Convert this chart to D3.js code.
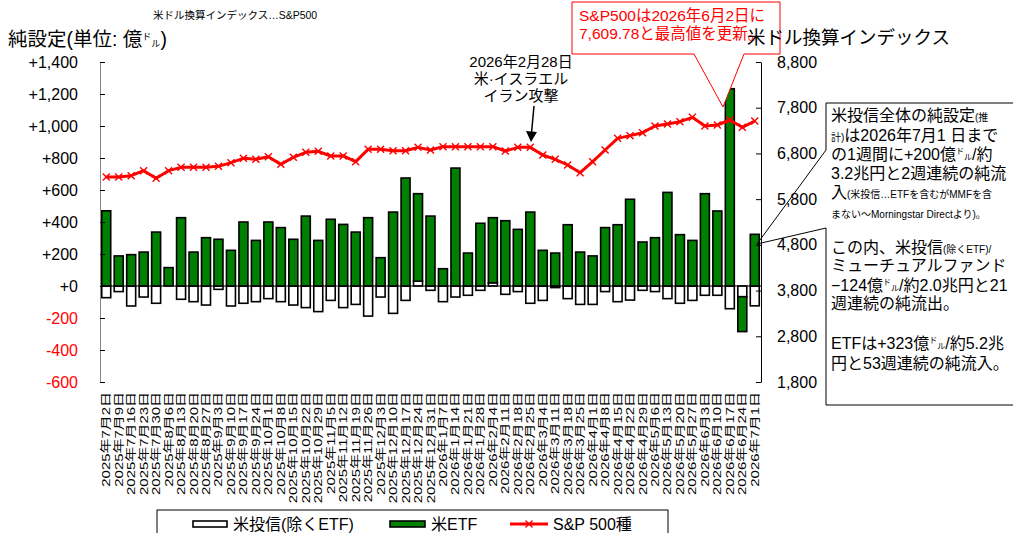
<!DOCTYPE html>
<html>
<head>
<meta charset="utf-8">
<script src="https://cdn.jsdelivr.net/npm/d3@7"></script>
<style>
  body { margin: 0; background: #fff; }
  svg { display: block; font-family: "Liberation Sans", Arial, "Noto Sans CJK JP", sans-serif; }
</style>
</head>
<body>
<svg id="chart" width="1013" height="533"></svg>
<script>
// weekly data (億ドル), S&P500 index
const dates = [
  '2025年7月2日','2025年7月9日','2025年7月16日','2025年7月23日','2025年7月30日',
  '2025年8月6日','2025年8月13日','2025年8月20日','2025年8月27日',
  '2025年9月3日','2025年9月10日','2025年9月17日','2025年9月24日',
  '2025年10月1日','2025年10月8日','2025年10月15日','2025年10月22日','2025年10月29日',
  '2025年11月5日','2025年11月12日','2025年11月19日','2025年11月26日',
  '2025年12月3日','2025年12月10日','2025年12月17日','2025年12月24日','2025年12月31日',
  '2026年1月7日','2026年1月14日','2026年1月21日','2026年1月28日',
  '2026年2月4日','2026年2月11日','2026年2月18日','2026年2月25日',
  '2026年3月4日','2026年3月11日','2026年3月18日','2026年3月25日',
  '2026年4月1日','2026年4月8日','2026年4月15日','2026年4月22日','2026年4月29日',
  '2026年5月6日','2026年5月13日','2026年5月20日','2026年5月27日',
  '2026年6月3日','2026年6月10日','2026年6月17日','2026年6月24日','2026年7月1日'
]
const mutualFunds = [
  -73, -35, -125, -69, -108, 0, -83, -98, -119, -21, -125, -108, -98,
  -79, -98, -119, -135, -160, -90, -135, -115, -188, -69, -171, -90, 30, -27,
  -98, -69, -58, -27, 20, -52, -35, -108, -90, -10, -79, -115,
  -115, -35, -98, -88, -27, -35, -79, -108, -90, -58, -58, -142, -67, -124
]
const etfs = [
  470, 188, 196, 212, 337, 115, 427, 212, 302, 292, 223, 400, 285,
  400, 365, 292, 437, 285, 417, 385, 337, 427, 177, 462, 675, 547, 437,
  108, 737, 206, 392, 407, 408, 354, 462, 223, 206, 383, 212,
  188, 365, 383, 542, 275, 302, 585, 321, 285, 577, 469, 1233, -218, 323
]
const sp500 = [
  6284, 6284, 6314, 6423, 6255, 6423, 6496, 6496, 6496, 6518,
  6598, 6693, 6671, 6729, 6561, 6715, 6824, 6846, 6744, 6744,
  6620, 6890, 6890, 6860, 6860, 6933, 6875,
  6948, 6948, 6948, 6948, 6948, 6853, 6933, 6933,
  6766, 6671, 6547, 6379, 6620, 6875, 7130, 7189, 7254,
  7400, 7444, 7495, 7590, 7400, 7422, 7531, 7371, 7509
]
const leftTicks = [1400, 1200, 1000, 800, 600, 400, 200, 0, -200, -400, -600]
const rightTicks = [8800, 7800, 6800, 5800, 4800, 3800, 2800, 1800]
const seriesNames = ['米投信(除くETF)', '米ETF', 'S&P 500種']

const svg = d3.select('#chart')
const plotLeft = 100, plotRight = 761, plotTop = 62, plotBottom = 382

//scales
const xScale = d3.scaleBand()
                 .domain(dates)
                 .range([plotLeft, plotRight])
                 .paddingInner(0.28)
                 .paddingOuter(0.14)
const yLeft = d3.scaleLinear().domain([-600, 1400]).range([plotBottom, plotTop])
const yRight = d3.scaleLinear().domain([1800, 8800]).range([plotBottom, plotTop])
const cx = d => xScale(d) + xScale.bandwidth() / 2

//stacked bars
const table = dates.map((d, i) => ({date: d, mf: mutualFunds[i], etf: etfs[i]}))
const stacked = d3.stack().keys(['mf', 'etf']).offset(d3.stackOffsetDiverging)(table)
const fills = {mf: '#fff', etf: '#008000'}

stacked.forEach(s => {
    svg.append('g')
       .selectAll('rect')
       .data(s)
       .join('rect')
       .attr('x', d => xScale(d.data.date))
       .attr('width', xScale.bandwidth())
       .attr('y', d => yLeft(Math.max(d[0], d[1])))
       .attr('height', d => Math.abs(yLeft(d[0]) - yLeft(d[1])))
       .style('fill', fills[s.key])
       .style('stroke', '#000')
       .style('stroke-width', 1.6)
})

//zero line
svg.append('line')
   .attr('x1', plotLeft).attr('x2', plotRight)
   .attr('y1', yLeft(0)).attr('y2', yLeft(0))
   .style('stroke', '#000')

//axes
const leftAxis = svg.append('g')
                    .attr('transform', `translate(${plotLeft},0)`)
                    .call(d3.axisLeft(yLeft)
                            .tickValues(leftTicks)
                            .tickSizeInner(-5)
                            .tickSizeOuter(0)
                            .tickPadding(22)
                            .tickFormat(d => d > 0 ? '+' + d3.format(',')(d) : d === 0 ? '+0' : '-' + d3.format(',')(-d)))
leftAxis.attr('font-family', null).attr('font-size', 16)
leftAxis.select('.domain').style('stroke', '#888')
leftAxis.selectAll('text').style('fill', d => d < 0 ? '#f00' : '#000')

const rightAxis = svg.append('g')
                     .attr('transform', `translate(${plotRight},0)`)
                     .call(d3.axisRight(yRight)
                             .tickValues(rightTicks)
                             .tickSizeInner(-5)
                             .tickSizeOuter(0)
                             .tickPadding(16)
                             .tickFormat(d3.format(',')))
rightAxis.attr('font-family', null).attr('font-size', 16)

//x labels, vertical (stretched along the text like the original)
svg.append('g')
   .selectAll('text')
   .data(dates)
   .join('text')
   .attr('transform', d => `translate(${cx(d) + 4},392) rotate(-90) scale(1.3,1)`)
   .attr('text-anchor', 'end')
   .style('font-size', '11.5px')
   .text(d => d)

//s&p line
svg.append('path')
   .datum(sp500)
   .attr('d', d3.line().x((d, i) => cx(dates[i])).y(d => yRight(d)))
   .style('fill', 'none')
   .style('stroke', '#f00')
   .style('stroke-width', 3)
   .style('stroke-linejoin', 'round')

svg.append('g')
   .selectAll('path')
   .data(sp500)
   .join('path')
   .attr('d', (d, i) => {
       const x = cx(dates[i]), y = yRight(d), r = 3.5
       return `M${x - r},${y - r}L${x + r},${y + r}M${x - r},${y + r}L${x + r},${y - r}`
   })
   .style('stroke', '#f00')
   .style('stroke-width', 1.4)

//titles
const title = svg.append('text').attr('x', 8).attr('y', 46).style('font-size', '19.5px')
title.append('tspan').text('純設定(単位: 億')
title.append('tspan').attr('dy', -6).style('font-size', '9px').text('ド')
title.append('tspan').attr('dy', 7).style('font-size', '9px').text('ル')
title.append('tspan').attr('dy', -1).text(')')

svg.append('text').attr('x', 153).attr('y', 19).style('font-size', '10.5px')
   .text('米ドル換算インデックス…S&P500')

//red callout (S&P record)
svg.append('path')
   .attr('d', 'M572,2H780V54H744L723,107L694,54H572Z')
   .style('fill', '#fff')
   .style('stroke', '#f00')
svg.append('text').attr('x', 579).attr('y', 21).style('font-size', '15.5px').style('fill', '#f00')
   .text('S&P500は2026年6月2日に')
svg.append('text').attr('x', 579).attr('y', 39).style('font-size', '15.5px').style('fill', '#f00')
   .text('7,609.78と最高値を更新。')

svg.append('text').attr('x', 747).attr('y', 44).style('font-size', '18.5px')
   .text('米ドル換算インデックス')

//iran annotation
const iran = svg.append('text').attr('text-anchor', 'middle').style('font-size', '15px')
;['2026年2月28日', '米·イスラエル', 'イラン攻撃'].forEach((t, i) => {
    iran.append('tspan').attr('x', 521).attr('y', 67 + i * 17).text(t)
})
svg.append('line').attr('x1', 534).attr('y1', 106).attr('x2', 531.5).attr('y2', 133)
   .style('stroke', '#000').style('stroke-width', 1.5)
svg.append('path').attr('d', 'M526,131L537,132L531,142Z').style('fill', '#000')

//right comment box
svg.append('path')
   .attr('d', 'M826,150V103H1020V405H826V228L757,244L826,150')
   .style('fill', 'none')
   .style('stroke', '#000')

const noteLines = [
    [['米投信全体の純設定'], ['(推', 1]],
    [['計)', 1], ['は2026年7月1 日まで']],
    [['の1週間に+200億'], ['ドル', 2], ['/約']],
    [['3.2兆円と2週連続の純流']],
    [['入'], ['(米投信…ETFを含むがMMFを含', 1]],
    [['まない～Morningstar Directより)。', 1]],
    [['この内、米投信'], ['(除くETF)/', 1]],
    [['ミューチュアルファンド']],
    [['−124億'], ['ドル', 2], ['/約2.0兆円と21']],
    [['週連続の純流出。']],
    [['ETFは+323億'], ['ドル', 2], ['/約5.2兆']],
    [['円と53週連続の純流入。']]
]
const noteY = [121, 141, 160, 179, 198, 218, 253, 271, 291, 309, 349, 369]

noteLines.forEach((line, i) => {
    const t = svg.append('text').attr('x', 831).attr('y', noteY[i]).style('font-size', '16px')
    line.forEach(([s, kind]) => {
        if (kind === 2) {
            t.append('tspan').attr('dy', -6).style('font-size', '8px').text(s[0])
            t.append('tspan').attr('dy', 6).style('font-size', '8px').text(s[1])
        } else {
            t.append('tspan').style('font-size', kind === 1 ? '10px' : null).text(s)
        }
    })
})

//legend
const legend = svg.append('g')
legend.append('rect')
      .attr('x', 157).attr('y', 510).attr('width', 511).attr('height', 40)
      .style('fill', '#fff').style('stroke', '#000')
legend.append('rect').attr('x', 193).attr('y', 521).attr('width', 34).attr('height', 6)
      .style('fill', '#fff').style('stroke', '#000').style('stroke-width', 1.6)
legend.append('rect').attr('x', 390).attr('y', 521).attr('width', 35).attr('height', 6)
      .style('fill', '#008000').style('stroke', '#000').style('stroke-width', 1.6)
legend.append('line').attr('x1', 510).attr('x2', 548).attr('y1', 524).attr('y2', 524)
      .style('stroke', '#f00').style('stroke-width', 3)
legend.append('path').attr('d', 'M525.5,520.5L532.5,527.5M525.5,527.5L532.5,520.5')
      .style('stroke', '#f00').style('stroke-width', 1.4)
;[[233, seriesNames[0]], [431, seriesNames[1]], [553, seriesNames[2]]].forEach(([x, t]) => {
    legend.append('text').attr('x', x).attr('y', 530).style('font-size', '16px').text(t)
})
</script>
</body>
</html>
